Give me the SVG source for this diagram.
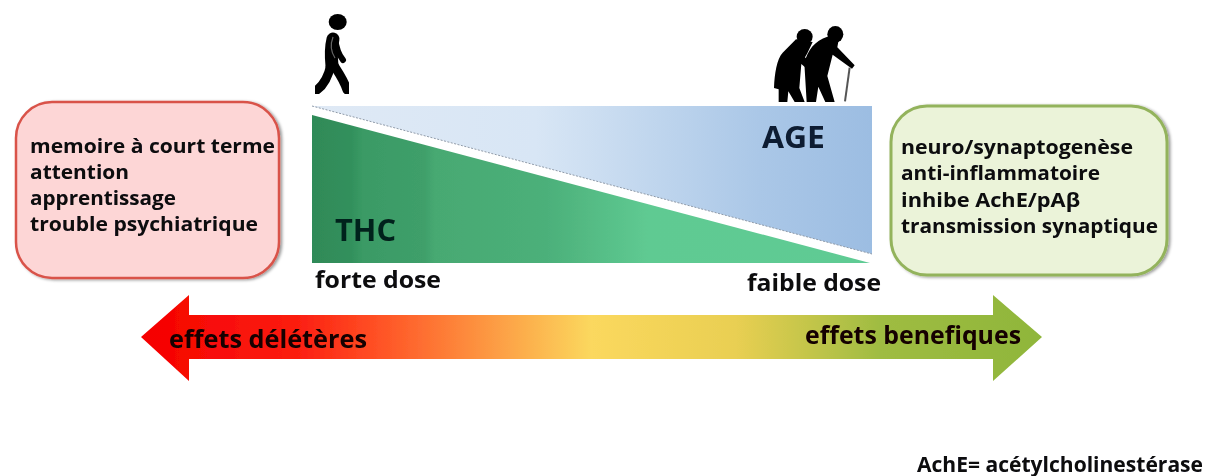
<svg xmlns="http://www.w3.org/2000/svg" width="1216" height="476" viewBox="0 0 1216 476">
<style>
text{font-family:"Open Sans","DejaVu Sans",sans-serif;font-weight:700;fill:#08080c;font-size:20px}
.big{font-size:30px;fill:#06201a}
.navy{fill:#0e1c30}
.dose{font-size:24px}
.eff{font-size:25px;fill:#120303}
</style>
<defs>
<filter id="soft" x="-5%" y="-5%" width="110%" height="110%"><feGaussianBlur stdDeviation="0.5"/></filter>
<filter id="shadow" x="-5%" y="-5%" width="110%" height="110%"><feDropShadow dx="2" dy="1" stdDeviation="1.5" flood-color="#000" flood-opacity="0.4"/></filter>
<linearGradient id="blue" x1="312" x2="872" y1="0" y2="0" gradientUnits="userSpaceOnUse"><stop offset="0" stop-color="#dfe9f5"/><stop offset="0.4" stop-color="#d8e6f5"/><stop offset="0.8" stop-color="#aac7e7"/><stop offset="1" stop-color="#9cbde2"/></linearGradient>
<linearGradient id="green" x1="312" x2="872" y1="0" y2="0" gradientUnits="userSpaceOnUse"><stop offset="0" stop-color="#2f8a58"/><stop offset="0.07" stop-color="#32905c"/><stop offset="0.09" stop-color="#3a9a65"/><stop offset="0.2" stop-color="#3f9f6a"/><stop offset="0.22" stop-color="#47a972"/><stop offset="0.42" stop-color="#4cb07a"/><stop offset="0.6" stop-color="#5fca92"/><stop offset="1" stop-color="#5ecb94"/></linearGradient>
<linearGradient id="ramp" x1="141" x2="1042" y1="0" y2="0" gradientUnits="userSpaceOnUse"><stop offset="0" stop-color="#f50000"/><stop offset="0.17" stop-color="#fb1c10"/><stop offset="0.25" stop-color="#ff4a22"/><stop offset="0.36" stop-color="#fd8a3c"/><stop offset="0.5" stop-color="#fbd85e"/><stop offset="0.66" stop-color="#e9cf52"/><stop offset="0.82" stop-color="#9fbc42"/><stop offset="1" stop-color="#8fb63a"/></linearGradient>
</defs>
<g id="connectors" filter="url(#soft)">
<path d="M141 337L189 295V315H993V295L1042 337L993 381V359H189V381Z" fill="url(#ramp)"/>
</g>
<g id="node-deleterious">
<rect x="16" y="102" width="263" height="176" rx="36" fill="#fdd6d6" stroke="#d9534a" stroke-width="2.5" filter="url(#shadow)"/>
<g filter="url(#soft)">
<text x="30" y="153" textLength="245" lengthAdjust="spacingAndGlyphs">memoire à court terme</text>
<text x="30" y="179" textLength="99" lengthAdjust="spacingAndGlyphs">attention</text>
<text x="30" y="205" textLength="146" lengthAdjust="spacingAndGlyphs">apprentissage</text>
<text x="30" y="231" textLength="228" lengthAdjust="spacingAndGlyphs">trouble psychiatrique</text>
</g>
</g>
<g id="node-beneficial">
<rect x="891" y="106" width="276" height="169" rx="36" fill="#ebf3d9" stroke="#93b35c" stroke-width="3" filter="url(#shadow)"/>
<g filter="url(#soft)">
<text x="901" y="154" textLength="232" lengthAdjust="spacingAndGlyphs">neuro/synaptogenèse</text>
<text x="901" y="180" textLength="199" lengthAdjust="spacingAndGlyphs">anti-inflammatoire</text>
<text x="901" y="207" textLength="179" lengthAdjust="spacingAndGlyphs">inhibe AchE/pAβ</text>
<text x="901" y="233" textLength="257" lengthAdjust="spacingAndGlyphs">transmission synaptique</text>
</g>
</g>
<g id="node-age" filter="url(#soft)">
<path d="M312 106H872V254Z" fill="url(#blue)"/>
<path d="M312 106L872 254" fill="none" stroke="#8f9aa8" stroke-width="1" stroke-dasharray="2 1.5"/>
<text class="big navy" x="762" y="148" textLength="63" lengthAdjust="spacingAndGlyphs">AGE</text>
<text class="dose" x="747" y="291" textLength="134" lengthAdjust="spacingAndGlyphs">faible dose</text>
</g>
<g id="node-thc" filter="url(#soft)">
<path d="M312 115L870 263H312Z" fill="url(#green)"/>
<text class="big" x="335" y="241" textLength="61" lengthAdjust="spacingAndGlyphs">THC</text>
<text class="dose" x="315" y="288" textLength="126" lengthAdjust="spacingAndGlyphs">forte dose</text>
</g>
<g id="node-young" filter="url(#soft)">
<ellipse cx="337.7" cy="22" rx="9" ry="8" fill="#000"/>
<g fill="none" stroke="#000" stroke-linecap="round" stroke-linejoin="round">
<path d="M333 39C331 47 331 56 332 66" stroke-width="13"/>
<path d="M335 38C336 46 338 54 343 60" stroke-width="6"/>
<path d="M331 64C329 74 325 84 317 90" stroke-width="9"/>
<path d="M333 64C338 72 344 80 347 90" stroke-width="9"/>
</g>
<path d="M333 37C330 45 331 52 335 58" fill="none" stroke="#666" stroke-width="1.2"/>
</g>
<g id="node-elderly" filter="url(#soft)" transform="translate(720 0) scale(0.3333)">
<ellipse cx="254" cy="110" rx="24" ry="23" fill="#000"/>
<ellipse cx="346" cy="103" rx="24" ry="25" fill="#000"/>
<path d="M228 118L278 126L262 160L255 172L272 190L258 204L244 192L238 264L254 306H224L205 274L202 306H176V268L162 264C164 220 170 178 188 158Z" fill="#000"/>
<path d="M322 110L356 120L352 142L404 196L396 206L338 164L322 228L344 306H316L295 260L288 306H260L253 190C262 150 285 122 322 110Z" fill="#000"/>
<path d="M389 203L375 304" fill="none" stroke="#555" stroke-width="6"/>
</g>
<g id="label-deleterious" filter="url(#soft)">
<text class="eff" x="169" y="348" textLength="198" lengthAdjust="spacingAndGlyphs">effets délétères</text>
</g>
<g id="label-beneficial" filter="url(#soft)">
<text class="eff" x="805" y="344" textLength="216" lengthAdjust="spacingAndGlyphs">effets benefiques</text>
</g>
<g id="note" filter="url(#soft)">
<text x="917" y="472" textLength="286" lengthAdjust="spacingAndGlyphs" style="font-size:21px">AchE= acétylcholinestérase</text>
</g>
</svg>
